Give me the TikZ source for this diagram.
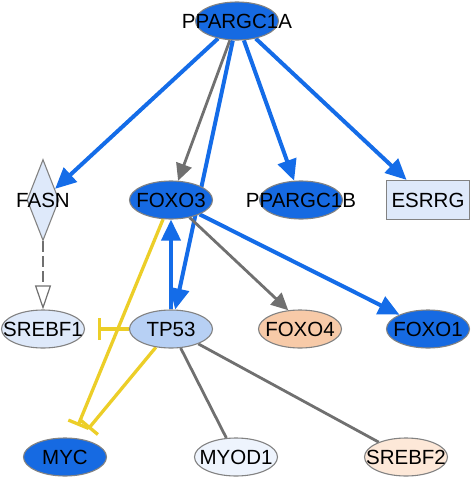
\documentclass[tikz,border=0pt]{standalone}
\usepackage{fontspec}
\setmainfont{Liberation Sans}
\usetikzlibrary{shapes.geometric,arrows.meta,backgrounds}
\definecolor{dblue}{RGB}{22,106,226}
\definecolor{eblue}{RGB}{20,108,232}
\definecolor{lblue}{RGB}{222,233,250}
\definecolor{vlblue}{RGB}{238,244,253}
\definecolor{mblue}{RGB}{183,208,244}
\definecolor{orng}{RGB}{247,202,168}
\definecolor{lorng}{RGB}{253,232,216}
\definecolor{egrey}{RGB}{112,112,112}
\definecolor{ylw}{RGB}{236,206,40}
\definecolor{bgrey}{RGB}{130,130,130}
\begin{document}
\begin{tikzpicture}[x=1pt,y=-1pt,
  lab/.style={font=\fontsize{20.5}{20.5}\selectfont,text=black,inner sep=0pt},
  gene/.style={draw=bgrey,line width=1.1pt,inner sep=0pt},
  ell/.style={gene,ellipse,minimum width=83pt,minimum height=38pt},
  act/.style={eblue,line width=4pt,-{Triangle[length=21pt,width=19pt]}},
  gact/.style={egrey,line width=2.8pt,-{Triangle[length=17pt,width=16pt]}},
  inh/.style={ylw,line width=3.3pt,-{Bar[width=22pt]},shorten >=13pt},
  rel/.style={egrey,line width=2.8pt},
]
\useasboundingbox (0,0) rectangle (472,479);
\node[ell,fill=dblue,label={[lab]center:PPARGC1A}] (ppa) at (237,21) {};
\node[gene,diamond,fill=lblue,minimum width=32pt,minimum height=81pt,label={[lab]center:FASN}] (fasn) at (43,200) {};
\node[ell,fill=dblue,label={[lab]center:FOXO3}] (foxo3) at (171,200) {};
\node[ell,fill=dblue,label={[lab]center:PPARGC1B}] (ppb) at (301,200) {};
\node[gene,rectangle,fill=lblue,minimum width=83pt,minimum height=39pt,label={[lab]center:ESRRG}] (esrrg) at (428,200) {};
\node[ell,fill=lblue,label={[lab]center:SREBF1}] (srebf1) at (43,329) {};
\node[ell,fill=mblue,label={[lab]center:TP53}] (tp53) at (171,329) {};
\node[ell,fill=orng,label={[lab]center:FOXO4}] (foxo4) at (300,329) {};
\node[ell,fill=dblue,label={[lab]center:FOXO1}] (foxo1) at (428,329) {};
\node[ell,fill=dblue,label={[lab]center:MYC}] (myc) at (65,457) {};
\node[ell,fill=vlblue,label={[lab]center:MYOD1}] (myod1) at (236,457) {};
\node[ell,fill=lorng,label={[lab]center:SREBF2}] (srebf2) at (406,457) {};
\begin{pgfonlayer}{background}
\draw[act] (ppa) -- (fasn);
\draw[gact] (ppa) -- (foxo3);
\draw[act] (ppa) -- (tp53);
\draw[act] (ppa) -- (ppb);
\draw[act] (ppa) -- (esrrg);
\draw[egrey,line width=2.2pt,dash pattern=on 11pt off 4pt,-{Triangle[length=24pt,width=16pt,fill=white,line width=1.2pt]}] (fasn) -- (srebf1);
\draw[act] (tp53) -- (foxo3);
\draw[gact] (foxo3) -- (foxo4.122);
\draw[act] (foxo3) -- (foxo1);
\draw[inh] (foxo3) -- (myc);
\draw[inh] (tp53) -- (myc);
\draw[inh] (tp53) -- (srebf1);
\draw[rel] (tp53) -- (myod1);
\draw[rel] (tp53) -- (srebf2);
\end{pgfonlayer}
\end{tikzpicture}
\end{document}
